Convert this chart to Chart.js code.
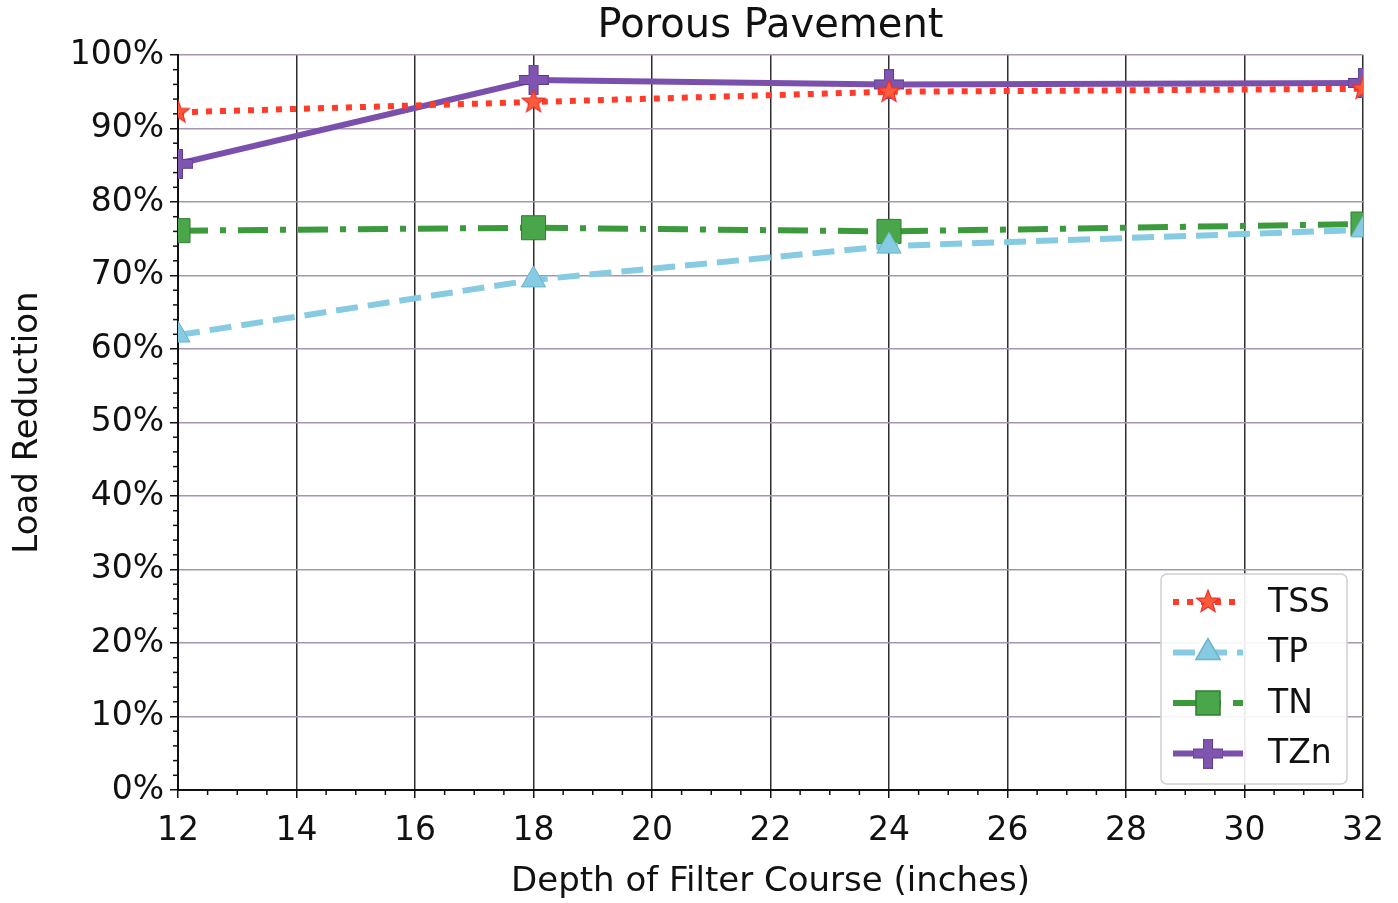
<!DOCTYPE html>
<html>
<head>
<meta charset="utf-8">
<script src="https://cdn.jsdelivr.net/npm/chart.js@4.4.0/dist/chart.umd.min.js"></script>
<style>
  html, body { margin: 0; padding: 0; background: #fff; }
  #wrap { width: 1398px; height: 903px; }
</style>
</head>
<body>
<div id="wrap"><canvas id="chart" width="1398" height="903"></canvas></div>
<script>
// donnees
const depths = [12, 18, 24, 32];
const tss = [92.2, 93.6, 95.0, 95.4];
const tp = [61.9, 69.4, 74.0, 76.2];
const tn = [76.1, 76.5, 76.0, 77.0];
const tzn = [85.2, 96.6, 96.0, 96.2];
const seriesNames = ['TSS', 'TP', 'TN', 'TZn'];
const yTicks = [0, 10, 20, 30, 40, 50, 60, 70, 80, 90, 100];
const chartTitle = 'Porous Pavement';

const FONT = 'DejaVu Sans';

// marqueurs faits a la main (etoile et plus pleins comme matplotlib)
function starMarker(size, fill, edge) {
    const c = document.createElement('canvas');
    c.width = size; c.height = size;
    const g = c.getContext('2d');
    const cx = size / 2, cy = size / 2, R = size / 2 - 1, r = R * 0.42;
    g.beginPath();
    for (let i = 0; i < 10; i++) {
        const a = -Math.PI / 2 + i * Math.PI / 5;
        const rr = i % 2 ? r : R;
        g.lineTo(cx + rr * Math.cos(a), cy + rr * Math.sin(a));
    }
    g.closePath();
    g.fillStyle = fill; g.fill();
    g.strokeStyle = edge; g.lineWidth = 1.2; g.stroke();
    return c;
}
function plusMarker(size, arm, fill, edge) {
    const c = document.createElement('canvas');
    c.width = size; c.height = size;
    const g = c.getContext('2d');
    const a = (size - arm) / 2;
    g.beginPath();
    g.moveTo(a, 0); g.lineTo(a + arm, 0); g.lineTo(a + arm, a); g.lineTo(size, a);
    g.lineTo(size, a + arm); g.lineTo(a + arm, a + arm); g.lineTo(a + arm, size);
    g.lineTo(a, size); g.lineTo(a, a + arm); g.lineTo(0, a + arm); g.lineTo(0, a); g.lineTo(a, a);
    g.closePath();
    g.fillStyle = fill; g.fill();
    g.strokeStyle = edge; g.lineWidth = 1; g.stroke();
    return c;
}

const star = starMarker(26, '#ff5a3a', '#e8302a');
const plus = plusMarker(30, 9, '#7f55b0', '#5a3a90');

function pts(values) {
    return depths.map((d, i) => ({ x: d, y: values[i] }));
}

const datasets = [
    {
        label: seriesNames[0], data: pts(tss),
        borderColor: '#ff3b2a', borderWidth: 6, borderDash: [6, 8],
        pointStyle: star, pointRadius: 13, backgroundColor: '#ff5a3a'
    },
    {
        label: seriesNames[1], data: pts(tp),
        borderColor: '#86cbe2', borderWidth: 6, borderDash: [22, 10],
        pointStyle: 'triangle', pointRadius: 14, backgroundColor: '#86cbe2', pointBorderColor: '#6ab3cc', pointBorderWidth: 1
    },
    {
        label: seriesNames[2], data: pts(tn),
        borderColor: '#3b9a3b', borderWidth: 6, borderDash: [30, 12, 6, 12],
        pointStyle: 'rect', pointRadius: 17, backgroundColor: '#4aa64a', pointBorderColor: '#2f7f2f', pointBorderWidth: 1
    },
    {
        label: seriesNames[3], data: pts(tzn),
        borderColor: '#7b50ad', borderWidth: 6,
        pointStyle: plus, pointRadius: 15, backgroundColor: '#7f55b0'
    }
];
datasets.forEach(d => { d.tension = 0; d.clip = 0; d.pointHoverRadius = d.pointRadius; });

// titre centre sur la zone du graphe + ticks mineurs
const extras = {
    id: 'extras',
    afterDraw(chart) {
        const { ctx, scales: { x, y }, chartArea: a } = chart;
        ctx.save();
        ctx.fillStyle = '#111';
        ctx.font = '40px "' + FONT + '"';
        ctx.textAlign = 'center';
        ctx.textBaseline = 'middle';
        ctx.fillText(chartTitle, (a.left + a.right) / 2, 27);

        ctx.strokeStyle = '#111';
        ctx.lineWidth = 1.5;
        for (let v = 0; v <= 100; v += 2) {
            if (v % 10 === 0) continue;
            const py = y.getPixelForValue(v);
            ctx.beginPath(); ctx.moveTo(a.left, py); ctx.lineTo(a.left - 5, py); ctx.stroke();
        }
        for (let v = 12; v <= 32; v += 0.5) {
            if (v % 2 === 0) continue;
            const px = x.getPixelForValue(v);
            ctx.beginPath(); ctx.moveTo(px, a.bottom); ctx.lineTo(px, a.bottom + 5); ctx.stroke();
        }
        ctx.restore();
    }
};

// legende dans la zone du graphe (en bas a droite)
const innerLegend = {
    id: 'innerLegend',
    afterDraw(chart) {
        const { ctx, chartArea: a } = chart;
        const w = 186, h = 210;
        const bx = a.right - w - 16, by = a.bottom - h - 6;
        ctx.save();
        ctx.fillStyle = 'rgba(255,255,255,0.9)';
        ctx.strokeStyle = '#cfcfcf';
        ctx.lineWidth = 1.5;
        ctx.beginPath();
        ctx.roundRect(bx, by, w, h, 6);
        ctx.fill(); ctx.stroke();
        chart.data.datasets.forEach((ds, i) => {
            const cy = by + 28 + i * 50.5;
            const x0 = bx + 12, x1 = bx + 82;
            ctx.save();
            ctx.strokeStyle = ds.borderColor;
            ctx.lineWidth = ds.borderWidth;
            ctx.setLineDash(ds.borderDash || []);
            ctx.beginPath(); ctx.moveTo(x0, cy); ctx.lineTo(x1, cy); ctx.stroke();
            ctx.restore();
            ctx.fillStyle = ds.backgroundColor;
            ctx.strokeStyle = ds.pointBorderColor || ds.borderColor;
            Chart.helpers.drawPoint(ctx, {
                pointStyle: ds.pointStyle, radius: ds.pointRadius, rotation: 0,
                borderWidth: ds.pointBorderWidth || 0
            }, (x0 + x1) / 2, cy);
            ctx.fillStyle = '#111';
            ctx.font = '33px "' + FONT + '"';
            ctx.textBaseline = 'middle';
            ctx.fillText(ds.label, bx + 107, cy + 1);
        });
        ctx.restore();
    }
};

new Chart(document.getElementById('chart'), {
    type: 'line',
    data: { datasets: datasets },
    plugins: [extras, innerLegend],
    options: {
        responsive: false,
        animation: false,
        layout: { padding: { left: 0, right: 33, top: 55, bottom: 0 } },
        plugins: {
            legend: { display: false },
            tooltip: { enabled: false },
            title: { display: false }
        },
        scales: {
            x: {
                type: 'linear', min: 12, max: 32,
                border: { color: '#111', width: 2 },
                grid: { color: '#2e2e2e', lineWidth: 1.5, tickColor: '#111', tickLength: 8 },
                ticks: { stepSize: 2, color: '#111', padding: 14, font: { family: FONT, size: 33 } },
                title: {
                    display: true, text: 'Depth of Filter Course (inches)', color: '#111',
                    font: { family: FONT, size: 34 }, padding: { top: 0, bottom: 0 }
                },
                afterFit(axis) { axis.height = 113; }
            },
            y: {
                min: 0, max: 100,
                afterBuildTicks(axis) { axis.ticks = yTicks.map(v => ({ value: v })); },
                border: { color: '#111', width: 2 },
                grid: { color: '#a595b3', lineWidth: 1.5, tickColor: '#111', tickLength: 8 },
                ticks: {
                    color: '#111', padding: 6, font: { family: FONT, size: 33 },
                    callback: v => v + '%'
                },
                title: {
                    display: true, text: 'Load Reduction', color: '#111',
                    font: { family: FONT, size: 34 }, padding: { top: 8, bottom: 6 }
                },
                afterFit(axis) { axis.width = 178; }
            }
        }
    }
});
</script>
</body>
</html>
